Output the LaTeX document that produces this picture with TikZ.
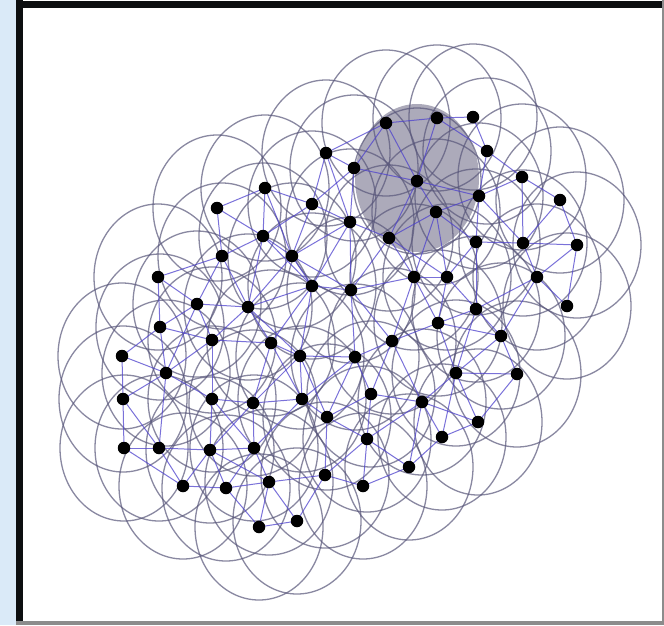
\documentclass[tikz,border=0pt]{standalone}
\usetikzlibrary{calc}
\definecolor{stripblue}{RGB}{218,234,248}
\definecolor{ringcol}{RGB}{88,86,122}
\definecolor{edgecol}{RGB}{78,66,205}
\definecolor{grayfill}{RGB}{172,170,186}
\definecolor{framecol}{RGB}{12,14,16}
\pgfdeclarelayer{bgL}
\pgfdeclarelayer{fillL}
\pgfdeclarelayer{ringL}
\pgfdeclarelayer{edgeL}
\pgfsetlayers{bgL,fillL,ringL,edgeL,main}
\tikzset{
  dot/.style={circle,fill=black,draw=none,inner sep=0pt,minimum size=12.5pt},
  ring/.style={draw=ringcol,draw opacity=0.7,line width=1.3pt},
  link/.style={draw=edgecol,draw opacity=0.75,line width=1pt},
  zone/.style={fill=grayfill}
}
\def\pts{386/123,437/118,473/117,487/151,326/153,354/168,417/181,522/177,479/196,560/200,
265/188,312/204,217/208,436/212,350/222,263/236,389/238,476/242,523/243,577/245,
222/256,292/256,414/277,447/277,537/277,158/277,312/286,351/290,197/304,248/307,
476/309,567/306,160/327,438/323,501/336,212/340,271/343,392/341,122/356,300/356,
355/357,166/373,456/373,517/374,123/399,212/399,253/403,302/399,371/394,422/402,
327/417,478/422,124/448,159/448,210/450,254/448,367/439,442/437,409/467,183/486,
226/488,269/482,325/475,363/486,259/527,297/521}
\begin{document}
\begin{tikzpicture}[x=1pt,y=-1pt]
\useasboundingbox (0,0) rectangle (664,625);
% background and frame
\begin{pgfonlayer}{bgL}
\fill[stripblue] (0,0) rectangle (664,625);
\fill[white] (16,0) rectangle (664,625);
\end{pgfonlayer}
\fill[framecol] (16,0) rectangle (23,625);
\fill[framecol] (16,1) rectangle (664,8);
\fill[black!45] (662,0) rectangle (664,625);
\fill[black!45] (16,621) rectangle (664,625);
% sensor nodes
\foreach [count=\i] \x/\y in \pts {
  \node[dot] (n\i) at (\x,\y) {};
}
% highlighted sensing zone of node 7
\begin{pgfonlayer}{fillL}
  \fill[zone] ($(n7.center)+(0,-3)$) ellipse [x radius=62pt, y radius=74pt];
\end{pgfonlayer}
% sensing ranges
\begin{pgfonlayer}{ringL}
\foreach \i in {1,...,66} {
  \draw[ring] (n\i.center) ellipse [x radius=64pt, y radius=73pt];
}
\end{pgfonlayer}
% links between nodes in range
\begin{pgfonlayer}{edgeL}
\foreach [count=\i] \xa/\ya in \pts {
  \foreach [count=\j] \xb/\yb in \pts {
    \ifnum\j>\i
      \pgfmathtruncatemacro\ok{veclen((\xa-\xb)/10,(\ya-\yb)*0.0877)<6.8}
      \ifnum\ok=1
        \draw[link] (n\i.center) -- (n\j.center);
      \fi
    \fi
  }
}
\end{pgfonlayer}
\end{tikzpicture}
\end{document}
